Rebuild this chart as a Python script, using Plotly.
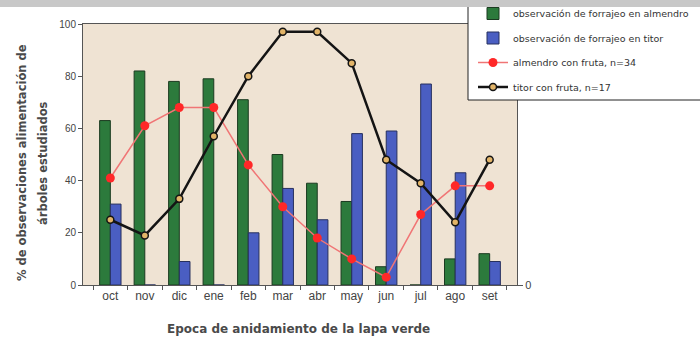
import plotly.graph_objects as go

months = ["oct", "nov", "dic", "ene", "feb", "mar", "abr", "may", "jun", "jul", "ago", "set"]
forrajeo_almendro = [63, 82, 78, 79, 71, 50, 39, 32, 7, 0, 10, 12]
forrajeo_titor = [31, 0, 9, 0, 20, 37, 25, 58, 59, 77, 43, 9]
almendro_fruta = [41, 61, 68, 68, 46, 30, 18, 10, 3, 27, 38, 38]
titor_fruta = [25, 19, 33, 57, 80, 97, 97, 85, 48, 39, 24, 48]

names = ["observación de forrajeo en almendro", "observación de forrajeo en titor",
         "almendro con fruta, n=34", "titor con fruta, n=17"]

fig = go.Figure()
fig.add_trace(go.Bar(x=months, y=forrajeo_almendro, name=names[0], legendgroup="a",
                     marker=dict(color="#2c7a3c", line=dict(color="#1b3a20", width=1))))
fig.add_trace(go.Bar(x=months, y=forrajeo_titor, name=names[1], legendgroup="b",
                     marker=dict(color="#4a5ec2", line=dict(color="#27305e", width=1))))
fig.add_trace(go.Scatter(x=months, y=almendro_fruta, name=names[2], legendgroup="c",
                         mode="lines+markers",
                         line=dict(color="#f07575", width=1.5),
                         marker=dict(symbol="circle", size=9, color="#ff2828",
                                     line=dict(color="#ff2828", width=0))))
fig.add_trace(go.Scatter(x=months, y=titor_fruta, name=names[3], legendgroup="d",
                         mode="lines+markers",
                         line=dict(color="#141414", width=2.5),
                         marker=dict(symbol="circle", size=7, color="#e2b468",
                                     line=dict(color="#141414", width=1.5))))
# invisible trace to bind the right-hand axis
fig.add_trace(go.Scatter(x=months, y=[None] * len(months), yaxis="y2",
                         showlegend=False, hoverinfo="skip"))

SANS = "Liberation Sans, Arial, sans-serif"
WIDE = "DejaVu Sans, Verdana, sans-serif"
axis_font = dict(family=SANS, size=10, color="#444")

fig.update_layout(
    width=700, height=340,
    margin=dict(l=83, r=183, t=24, b=55, autoexpand=False),
    paper_bgcolor="white",
    plot_bgcolor="#efe3d3",
    barmode="group", bargap=0.38, bargroupgap=0,
    font=dict(family=SANS, color="#444"),
    xaxis=dict(tickson="boundaries", ticks="outside", ticklen=4, tickcolor="#555",
               showline=True, linecolor="#555", linewidth=1, mirror=True,
               tickfont=dict(family=SANS, size=12, color="#444"),
               showgrid=False),
    yaxis=dict(range=[0, 100], tickvals=[0, 20, 40, 60, 80, 100], ticks="outside",
               ticklen=4, tickcolor="#555", showline=True, linecolor="#555",
               showgrid=False, zeroline=False, tickfont=axis_font),
    yaxis2=dict(range=[0, 100], overlaying="y", side="right", tickvals=[0], ticktext=["0"],
                ticks="outside", ticklen=5, tickcolor="#555", showline=True,
                linecolor="#555", showgrid=False, zeroline=False,
                tickfont=dict(family=SANS, size=11, color="#444")),
    legend=dict(x=(473 - 83) / 434, y=(285 + 1) / 261, yanchor="top", xanchor="left",
                bgcolor="rgba(0,0,0,0)", borderwidth=0, itemwidth=30,
                tracegroupgap=5.5, traceorder="grouped",
                font=dict(family=WIDE, size=9.5, color="#333")),
    showlegend=True,
)

# legend frame (drawn behind the legend)
fig.add_shape(type="rect", xref="paper", yref="paper", x0=(468 - 83) / 434, x1=1.5,
              y0=(285 - 100) / 261, y1=1.2, fillcolor="white",
              line=dict(color="#222", width=1), layer="above")
# grey band at the very top
fig.add_shape(type="rect", xref="paper", yref="paper", x0=-0.3, x1=1.5,
              y0=(285 - 7) / 261, y1=1.2, fillcolor="#c8c8c8",
              line=dict(width=0), layer="above")

title_font = dict(family=WIDE, size=11.5, color="#4a4a4a")
fig.add_annotation(text="<b>% de observaciones alimentación de</b>",
                   xref="paper", yref="paper", x=(22 - 83) / 434, y=(285 - 163) / 261,
                   textangle=-90, showarrow=False, xanchor="center", yanchor="middle",
                   font=title_font)
fig.add_annotation(text="<b>árboles estudiados</b>",
                   xref="paper", yref="paper", x=(43 - 83) / 434, y=(285 - 163) / 261,
                   textangle=-90, showarrow=False, xanchor="center", yanchor="middle",
                   font=title_font)
fig.add_annotation(text="<b>Epoca de anidamiento de la lapa verde</b>",
                   xref="paper", yref="paper", x=(298 - 83) / 434, y=-(329 - 285) / 261,
                   showarrow=False, yanchor="middle",
                   font=dict(family=WIDE, size=12, color="#4a4a4a"))

fig.write_html("out.html", config={"displayModeBar": False},
               post_script="document.body.style.margin='0';document.body.style.overflow='hidden';")
